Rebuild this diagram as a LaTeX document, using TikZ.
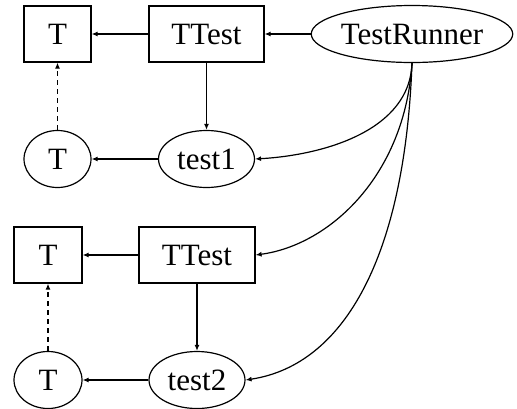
\documentclass[tikz,border=0pt]{standalone}
\usepackage{fontspec}
\setmainfont{Liberation Serif}
\usetikzlibrary{arrows.meta,shapes.geometric}
\begin{document}
\begin{tikzpicture}[x=1pt,y=-1pt,line width=1.2pt,
  lbl/.style={font=\fontsize{31}{33}\selectfont,inner sep=0pt,draw},
  boxn/.style={lbl,rectangle,minimum height=56pt},
  elln/.style={lbl,ellipse,minimum height=57pt},
  arr/.style={-{Latex[length=6pt,width=5pt]}}]
\useasboundingbox (0,0) rectangle (517,408);
\node[boxn,minimum width=67pt] (t1) at (57.5,34) {T};
\node[boxn,minimum width=115pt] (tt1) at (206.5,34) {TTest};
\node[elln,minimum width=200pt] (runner) at (412,34) {TestRunner};
\node[elln,minimum width=96pt] (test1) at (206.5,159) {test1};
\node[elln,minimum width=67pt] (c1) at (57.5,159) {T};
\node[boxn,minimum width=68pt] (t2) at (48,255) {T};
\node[boxn,minimum width=116pt] (tt2) at (197,255) {TTest};
\node[elln,minimum width=96pt] (test2) at (197,380) {test2};
\node[elln,minimum width=68pt] (c2) at (48,380) {T};
\draw[arr] (runner) -- (tt1);
\draw[arr] (tt1) -- (t1);
\draw[arr] (tt1) -- (test1);
\draw[arr] (test1) -- (c1);
\draw[arr,dashed,dash pattern=on 5pt off 4pt] (c1) -- (t1);
\draw[arr] (tt2) -- (t2);
\draw[arr] (tt2) -- (test2);
\draw[arr] (test2) -- (c2);
\draw[arr,dashed,dash pattern=on 5pt off 4pt] (c2) -- (t2);
\draw[arr] (runner.south) .. controls (410,130) and (325,155) .. (test1.east);
\draw[arr] (runner.south) .. controls (405,175) and (330,245) .. (tt2.east);
\draw[arr] (runner.south) .. controls (405,255) and (345,365) .. (test2.east);
\end{tikzpicture}
\end{document}
